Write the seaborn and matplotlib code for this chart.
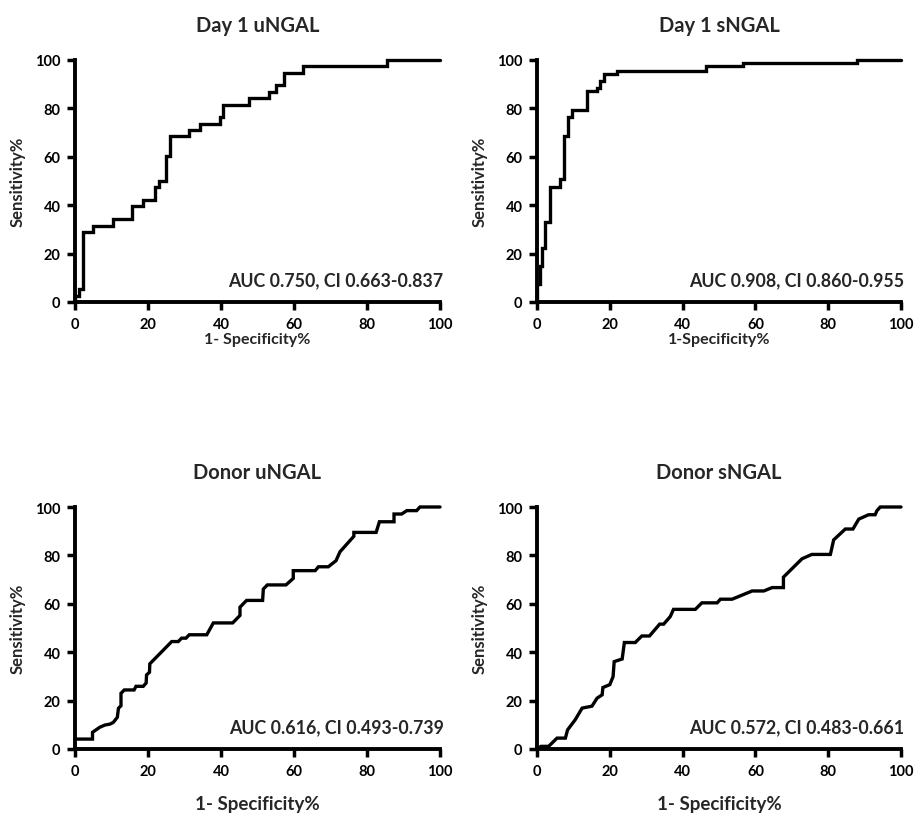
import numpy as np
import pandas as pd
import matplotlib
matplotlib.use("Agg")
import matplotlib.pyplot as plt
import seaborn as sns

# ---- data: ROC vertices (1-specificity %, sensitivity %) ----
day1_u_fpr = [0, 0, 1.0, 1.0, 2.1, 2.1, 5.0, 5.0, 10.3, 10.3, 15.5, 15.5, 18.7, 18.7,
              21.9, 21.9, 23.0, 23.0, 25.0, 25.0, 26.0, 26.0, 31.3, 31.3, 34.2, 34.2,
              39.7, 39.7, 40.6, 40.6, 47.8, 47.8, 53.2, 53.2, 55.2, 55.2, 57.3, 57.3,
              62.6, 62.6, 85.6, 85.6, 100]
day1_u_tpr = [0, 2.6, 2.6, 5.3, 5.3, 28.9, 28.9, 31.6, 31.6, 34.2, 34.2, 39.5, 39.5, 42.1,
              42.1, 47.4, 47.4, 50.0, 50.0, 60.5, 60.5, 68.4, 68.4, 71.1, 71.1, 73.7,
              73.7, 76.3, 76.3, 81.6, 81.6, 84.2, 84.2, 86.8, 86.8, 89.5, 89.5, 94.7,
              94.7, 97.4, 97.4, 100, 100]

day1_s_fpr = [0, 0, 0.8, 0.8, 1.4, 1.4, 2.3, 2.3, 3.5, 3.5, 6.4, 6.4, 7.4, 7.4, 8.5, 8.5,
              9.6, 9.6, 13.7, 13.7, 16.5, 16.5, 17.2, 17.2, 18.3, 18.3, 22.0, 22.0,
              46.4, 46.4, 56.7, 56.7, 87.8, 87.8, 100]
day1_s_tpr = [0, 7.5, 7.5, 15.0, 15.0, 22.5, 22.5, 33.0, 33.0, 47.5, 47.5, 51.0, 51.0,
              68.6, 68.6, 76.6, 76.6, 79.4, 79.4, 87.0, 87.0, 88.3, 88.3, 91.3, 91.3,
              94.2, 94.2, 95.6, 95.6, 97.6, 97.6, 98.8, 98.8, 100, 100]

donor_u_fpr = [0, 4.8, 4.8, 6.8, 8.2, 9.6, 10.5, 11.6, 11.9, 12.6, 12.6, 13.5, 16.2, 16.7,
               18.7, 19.5, 19.6, 20.4, 20.5, 26.5, 28.3, 29.2, 30.4, 31.3, 36.1, 37.9,
               43.2, 45.2, 45.2, 47.0, 51.4, 51.6, 52.7, 57.8, 59.8, 59.8, 65.8, 66.7,
               69.4, 71.5, 72.6, 76.4, 76.4, 82.5, 83.4, 87.4, 87.4, 89.5, 90.9, 93.6,
               94.5, 100]
donor_u_tpr = [4.1, 4.1, 6.9, 9.0, 9.9, 10.3, 11.0, 13.1, 16.8, 17.9, 23.0, 24.4, 24.4,
               25.9, 25.9, 27.3, 30.6, 31.7, 35.2, 44.4, 44.4, 45.8, 45.8, 47.2, 47.2,
               52.1, 52.1, 55.2, 58.6, 61.4, 61.4, 66.1, 67.8, 67.8, 70.5, 73.7, 73.7,
               75.3, 75.3, 77.8, 81.5, 87.9, 89.5, 89.5, 93.9, 93.9, 97.1, 97.1, 98.5,
               98.5, 100, 100]

donor_s_fpr = [0, 1.1, 3.2, 5.5, 7.8, 8.4, 10.5, 12.4, 15.1, 16.5, 17.9, 18.1, 20.0, 20.9,
               21.2, 23.4, 24.0, 27.0, 28.8, 30.9, 33.7, 34.8, 36.6, 37.5, 43.5, 45.3,
               49.5, 50.4, 53.6, 59.1, 62.3, 64.6, 67.7, 67.7, 72.8, 75.5, 80.6, 81.5,
               84.7, 86.8, 88.4, 91.1, 92.9, 93.4, 94.3, 100]
donor_s_tpr = [0, 1.1, 1.1, 4.5, 4.5, 7.9, 12.1, 16.9, 17.7, 21.0, 22.4, 25.4, 26.6, 29.9,
               36.1, 37.2, 44.0, 44.0, 46.7, 46.7, 51.6, 51.6, 54.7, 57.7, 57.7, 60.4,
               60.4, 61.9, 61.9, 65.3, 65.3, 66.7, 66.7, 71.0, 78.6, 80.4, 80.4, 86.4,
               90.9, 90.9, 95.0, 96.8, 96.8, 98.5, 100, 100]

titles = ["Day 1 uNGAL", "Day 1 sNGAL", "Donor uNGAL", "Donor sNGAL"]
auc_texts = ["AUC 0.750, CI 0.663-0.837", "AUC 0.908, CI 0.860-0.955",
             "AUC 0.616, CI 0.493-0.739", "AUC 0.572, CI 0.483-0.661"]
xlabels = ["1- Specificity%", "1-Specificity%", "1- Specificity%", "1- Specificity%"]
ylabel = "Sensitivity%"
ticks = [0, 20, 40, 60, 80, 100]

curves = [(day1_u_fpr, day1_u_tpr), (day1_s_fpr, day1_s_tpr),
          (donor_u_fpr, donor_u_tpr), (donor_s_fpr, donor_s_tpr)]

sns.set_theme(style="ticks")
plt.rcParams["font.family"] = ["Lato", "DejaVu Sans"]
plt.rcParams["font.weight"] = "bold"

fig = plt.figure(figsize=(9.16, 8.2), dpi=100)
W, H = 916, 820
boxes = [(75, 61, 440, 303), (537, 61, 901, 303),
         (75, 508, 440, 750), (537, 508, 901, 750)]

for i, (box, (fx, ty)) in enumerate(zip(boxes, curves)):
    l, t, r, b = box
    ax = fig.add_axes([l / W, 1 - b / H, (r - l) / W, (b - t) / H])
    df = pd.DataFrame({"fpr": fx, "tpr": ty, "order": np.arange(len(fx))})
    sns.lineplot(data=df, x="fpr", y="tpr", sort=False, estimator=None,
                 color="black", linewidth=2.4, ax=ax)
    for ln in ax.lines:
        ln.set_clip_on(False)
        ln.set_solid_joinstyle("miter")
    ax.set_xlim(0, 100)
    ax.set_ylim(0, 100)
    ax.set_xticks(ticks)
    ax.set_yticks(ticks)
    ax.set_xticklabels([str(v) for v in ticks], fontsize=10.5, fontweight="bold")
    ax.set_yticklabels([str(v) for v in ticks], fontsize=10.5, fontweight="bold")
    for s in ["top", "right"]:
        ax.spines[s].set_visible(False)
    for s in ["left", "bottom"]:
        ax.spines[s].set_linewidth(2.8)
        ax.spines[s].set_color("black")
    ax.tick_params(axis="both", which="major", length=5.5, width=2.5,
                   color="black", labelcolor="black", pad=5, direction="out")
    ax.set_title(titles[i], fontsize=14.5, fontweight="bold", pad=21)
    ax.set_ylabel(ylabel, fontsize=12, fontweight="bold")
    ax.yaxis.set_label_coords(-0.135, 0.5)
    if i < 2:
        ax.set_xlabel(xlabels[i], fontsize=11.5, fontweight="bold")
        ax.xaxis.set_label_coords(0.5, -0.122)
    else:
        ax.set_xlabel(xlabels[i], fontsize=13.5, fontweight="bold")
        ax.xaxis.set_label_coords(0.5, -0.19)
    ax.text(101, 9, auc_texts[i], ha="right", va="center",
            fontsize=12.8, fontweight="bold")
    ax.set_facecolor("white")

fig.patch.set_facecolor("white")
fig.savefig("out.png", dpi=100)
